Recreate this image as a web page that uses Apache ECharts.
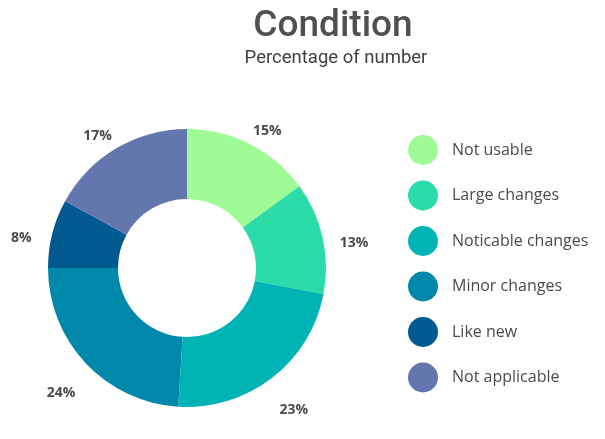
<!DOCTYPE html>
<html><head><meta charset="utf-8">
<script src="https://cdn.jsdelivr.net/npm/echarts@6/dist/echarts.min.js"></script>
<style>html,body{margin:0;padding:0;background:#fff}#c{width:605px;height:439px}</style>
</head><body><div id="c"></div>
<script>
const categories = ['Not usable','Large changes','Noticable changes','Minor changes','Like new','Not applicable'];
const values = [15, 13, 23, 24, 8, 17];
const colors = ['#9EFB95','#2BDCA8','#00B4B5','#0088AB','#00598F','#6377AE'];

const chart = echarts.init(document.getElementById('c'), null, {renderer:'canvas'});
chart.setOption({
  animation: false,
  color: colors,
  title: [{
    text: 'Condition', left: 328, top: 3, textAlign: 'center',
    textStyle: {fontFamily: 'Roboto', fontWeight: 500, fontSize: 37, color: '#505050'}
  },{
    text: 'Percentage of number', left: 331, top: 44, textAlign: 'center',
    textStyle: {fontFamily: 'Roboto', fontWeight: 'normal', fontSize: 18.5, color: '#404040'}
  }],
  legend: {
    orient: 'vertical', left: 403, top: 130,
    icon: 'circle', itemWidth: 30, itemHeight: 30, itemGap: 15.5,
    textStyle: {fontFamily: 'Open Sans', fontWeight: 500, fontSize: 16, color: '#4a4a4a', padding: [0,0,0,9]},
    data: categories
  },
  series: [{
    type: 'pie', center: [187, 268], radius: [69, 139],
    startAngle: 90, clockwise: true,
    label: {
      show: true, position: 'outside', formatter: '{c}%', overflow: 'none', width: 60,
      fontFamily: 'Open Sans', fontWeight: 'bold', fontSize: 14, color: '#4a4a4a'
    },
    labelLine: {show: false, length: 27, length2: 0},
    labelLayout: function () { return {align: 'center', verticalAlign: 'middle', dy: 11}; },
    data: categories.map((n,i)=>({name:n, value: values[i]}))
  }]
});
</script></body></html>
